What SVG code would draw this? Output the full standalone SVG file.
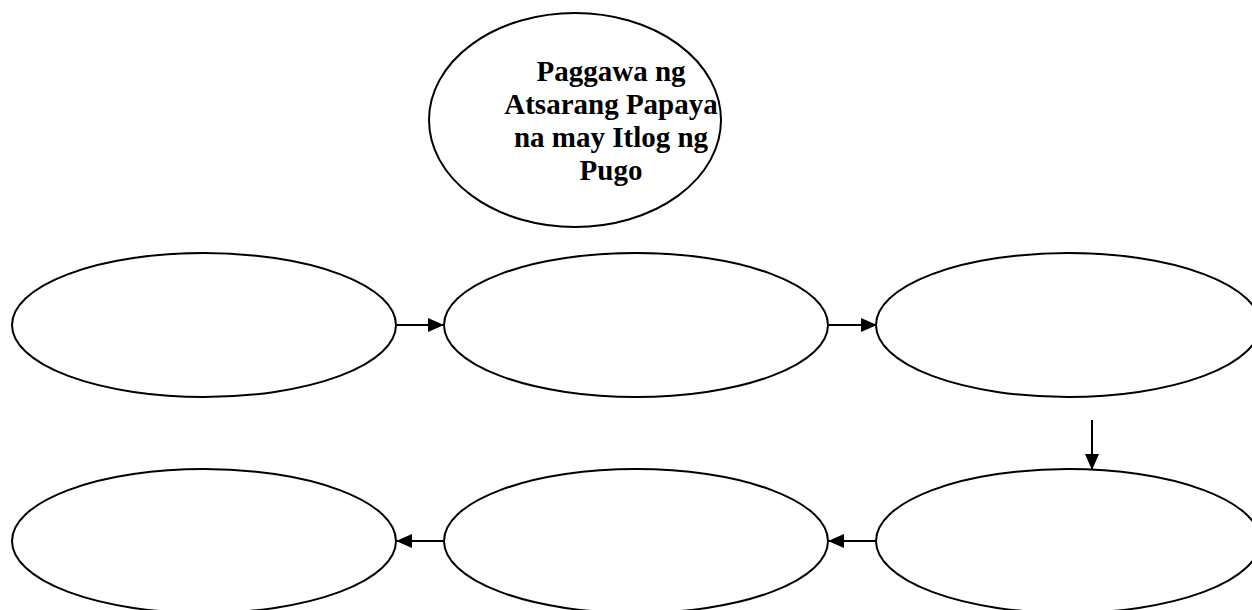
<svg xmlns="http://www.w3.org/2000/svg" width="1252" height="610" viewBox="0 0 1252 610">
<style>
.n{fill:#fff;stroke:#000;stroke-width:2}
.c{stroke:#000;stroke-width:2;fill:none}
.t{font-family:"Liberation Serif","Times New Roman",serif;font-weight:bold;font-size:29px;text-anchor:middle;fill:#000}
</style>
<defs>
<marker id="ah" markerWidth="16" markerHeight="14" refX="15" refY="7" orient="auto" markerUnits="userSpaceOnUse">
<path d="M0,0 L16,7 L0,14 Z" fill="#000"/>
</marker>
</defs>
<rect width="1252" height="610" fill="#fff"/>
<g id="title">
<ellipse class="n" cx="575" cy="120" rx="146" ry="107"/>
<text class="t" x="611" y="81">Paggawa ng</text>
<text class="t" x="611" y="114">Atsarang Papaya</text>
<text class="t" x="611" y="147">na may Itlog ng</text>
<text class="t" x="611" y="180">Pugo</text>
</g>
<g id="n1"><ellipse class="n" cx="204" cy="325" rx="192" ry="72"/></g>
<g id="n2"><ellipse class="n" cx="636" cy="325" rx="192" ry="72"/></g>
<g id="n3"><ellipse class="n" cx="1068" cy="325" rx="192" ry="72"/></g>
<g id="n4"><ellipse class="n" cx="1068" cy="541" rx="192" ry="72"/></g>
<g id="n5"><ellipse class="n" cx="636" cy="541" rx="192" ry="72"/></g>
<g id="n6"><ellipse class="n" cx="204" cy="541" rx="192" ry="72"/></g>
<g id="connectors">
<line class="c" x1="397" y1="325" x2="443" y2="325" marker-end="url(#ah)"/>
<line class="c" x1="829" y1="325" x2="876" y2="325" marker-end="url(#ah)"/>
<line class="c" x1="1092" y1="420" x2="1092" y2="469" marker-end="url(#ah)"/>
<line class="c" x1="876" y1="541" x2="829" y2="541" marker-end="url(#ah)"/>
<line class="c" x1="443" y1="541" x2="397" y2="541" marker-end="url(#ah)"/>
</g>
</svg>
